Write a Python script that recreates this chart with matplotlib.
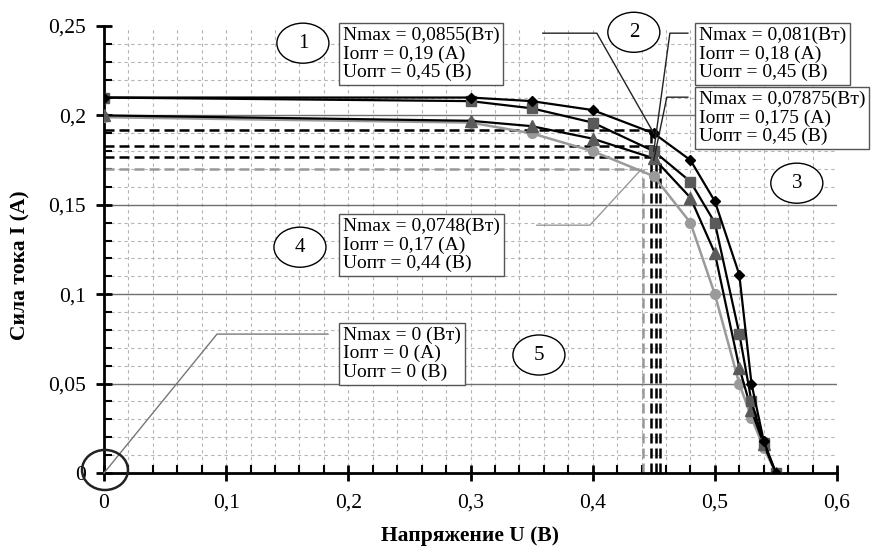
import numpy as np
import matplotlib
matplotlib.use("Agg")
import matplotlib.pyplot as plt
from matplotlib.patches import Ellipse
from matplotlib.ticker import MultipleLocator, FuncFormatter

plt.rcParams['font.family'] = ['Liberation Serif', 'DejaVu Serif']

# Напряжение U (В) для всех кривых
u = [0, 0.3, 0.35, 0.4, 0.45, 0.48, 0.5, 0.52, 0.53, 0.54, 0.55]

# Сила тока I (А) для четырёх кривых
i1 = [0.210, 0.210, 0.208, 0.203, 0.190, 0.175, 0.152, 0.111, 0.050, 0.018, 0]
i2 = [0.210, 0.208, 0.204, 0.196, 0.180, 0.163, 0.140, 0.078, 0.040, 0.017, 0]
i3 = [0.200, 0.197, 0.194, 0.187, 0.176, 0.154, 0.123, 0.059, 0.035, 0.016, 0]
i4 = [0.199, 0.196, 0.190, 0.180, 0.166, 0.140, 0.100, 0.050, 0.031, 0.014, 0]

# Оптимальные точки (подписи)
n_max = ["0,0855", "0,081", "0,07875", "0,0748", "0 "]
i_opt = [0.19, 0.18, 0.175, 0.17, 0]
u_opt = [0.45, 0.45, 0.45, 0.44, 0]

# Пунктирные линии
guide_u = [0.448, 0.452, 0.455, 0.441]
guide_i = [0.192, 0.183, 0.177, 0.170]
guide_col = ["black", "black", "black", "#999999"]

fig = plt.figure(figsize=(8.77, 5.49), dpi=100)
ax = fig.add_axes([0.1186, 0.1384, 0.8358, 0.8142])
ax.set_xlim(0, 0.6)
ax.set_ylim(0, 0.25)

# сетка
for v in np.arange(0.02, 0.59, 0.02):
    ax.axvline(v, ls=(0, (3, 3)), color='#b5b5b5', lw=0.8, zorder=0)
for k in range(1, 25):
    if k % 5 == 0:
        ax.axhline(k * 0.01, color='#707070', lw=1.0, zorder=0)
    else:
        ax.axhline(k * 0.01, ls=(0, (3, 3)), color='#b5b5b5', lw=0.8, zorder=0)

# пунктир к оптимальным точкам
for gx, gy, c in zip(guide_u, guide_i, guide_col):
    ax.plot([0, gx], [gy, gy], ls=(0, (4, 2)), color=c, lw=1.8, zorder=2)
    ax.plot([gx, gx], [0, gy], ls=(0, (4, 2)), color=c, lw=1.8, zorder=2)

# кривые
ax.plot(u, i4, color='#9a9a9a', lw=1.8, marker='o', ms=7, mfc='#9a9a9a', mec='#9a9a9a', zorder=3)
ax.plot(u, i3, color='black', lw=1.6, marker='^', ms=8, mfc='#5a5a5a', mec='#5a5a5a', zorder=4)
ax.plot(u, i2, color='black', lw=1.6, marker='s', ms=7, mfc='#5a5a5a', mec='#5a5a5a', zorder=5)
ax.plot(u, i1, color='black', lw=1.6, marker='D', ms=5.5, mfc='black', mec='black', zorder=6)

# подписи
box_pos = [(0.1956, 0.2495), (0.4869, 0.2495), (0.4869, 0.2137), (0.1956, 0.1427), (0.1956, 0.0818)]
for k, (bx, by) in enumerate(box_pos):
    if k == 4:
        txt = "Nmax = 0 (Вт)\nIопт = 0 (А)\nUопт = 0 (В)"
    else:
        txt = (f"Nmax = {n_max[k]}(Вт)\n"
               f"Iопт = {str(i_opt[k]).replace('.', ',')} (А)\n"
               f"Uопт = {str(u_opt[k]).replace('.', ',')} (В)")
    ax.text(bx, by, txt, ha='left', va='top', fontsize=14, linespacing=1.08,
            bbox=dict(boxstyle='square,pad=0.2', fc='white', ec='#555555', lw=1),
            zorder=8, clip_on=False)

# выноски
leaders = [([0.3592, 0.4034], [0.246, 0.246]),
           ([0.4779, 0.4632], [0.246, 0.246]),
           ([0.4779, 0.4607], [0.2102, 0.2102]),
           ([0.3543, 0.3977], [0.1386, 0.1386]),
           ([0.1833, 0.0925], [0.0777, 0.0777])]
lead_col = ['#222222', '#222222', '#222222', '#999999', '#777777']
for k, (lx, ly) in enumerate(leaders):
    ax.plot(lx + [u_opt[k]], ly + [i_opt[k]], color=lead_col[k], lw=1.0, zorder=7, clip_on=False)

# номера кривых
num_pos = [(0.1628, 0.2404), (0.4337, 0.2465), (0.5671, 0.1621), (0.1604, 0.1263), (0.356, 0.066)]
for k, (cx, cy) in enumerate(num_pos):
    ax.add_patch(Ellipse((cx, cy), 0.0426, 0.0224, fc='white', ec='black', lw=1, zorder=8, clip_on=False))
    ax.text(cx, cy, str(k + 1), ha='center', va='center', fontsize=15, zorder=9)

# кружок в начале координат
ax.add_patch(Ellipse((0.0008, 0.0017), 0.0376, 0.0224, fc='none', ec='#222222', lw=1.8, zorder=9, clip_on=False))

# оси
for s in ['top', 'right']:
    ax.spines[s].set_visible(False)
for s in ['left', 'bottom']:
    ax.spines[s].set_linewidth(2)
ax.xaxis.set_major_locator(MultipleLocator(0.1))
ax.xaxis.set_minor_locator(MultipleLocator(0.02))
ax.yaxis.set_major_locator(MultipleLocator(0.05))
ax.yaxis.set_minor_locator(MultipleLocator(0.01))
fmt = FuncFormatter(lambda v, _: f"{v:g}".replace('.', ','))
ax.xaxis.set_major_formatter(fmt)
ax.yaxis.set_major_formatter(fmt)
ax.tick_params(which='major', direction='inout', length=12, width=2, labelsize=15.5)
ax.tick_params(which='minor', direction='in', length=6, width=1.5)
ax.tick_params(axis='x', which='major', pad=9)
ax.tick_params(axis='y', which='major', pad=7)

ax.set_xlabel("Напряжение U (В)", fontsize=15.5, fontweight='bold')
ax.set_ylabel("Сила тока I (А)", fontsize=15.5, fontweight='bold')
ax.xaxis.set_label_coords(0.4995, -0.118)
ax.yaxis.set_label_coords(-0.10, 0.465)

fig.savefig("out.png", dpi=100)
